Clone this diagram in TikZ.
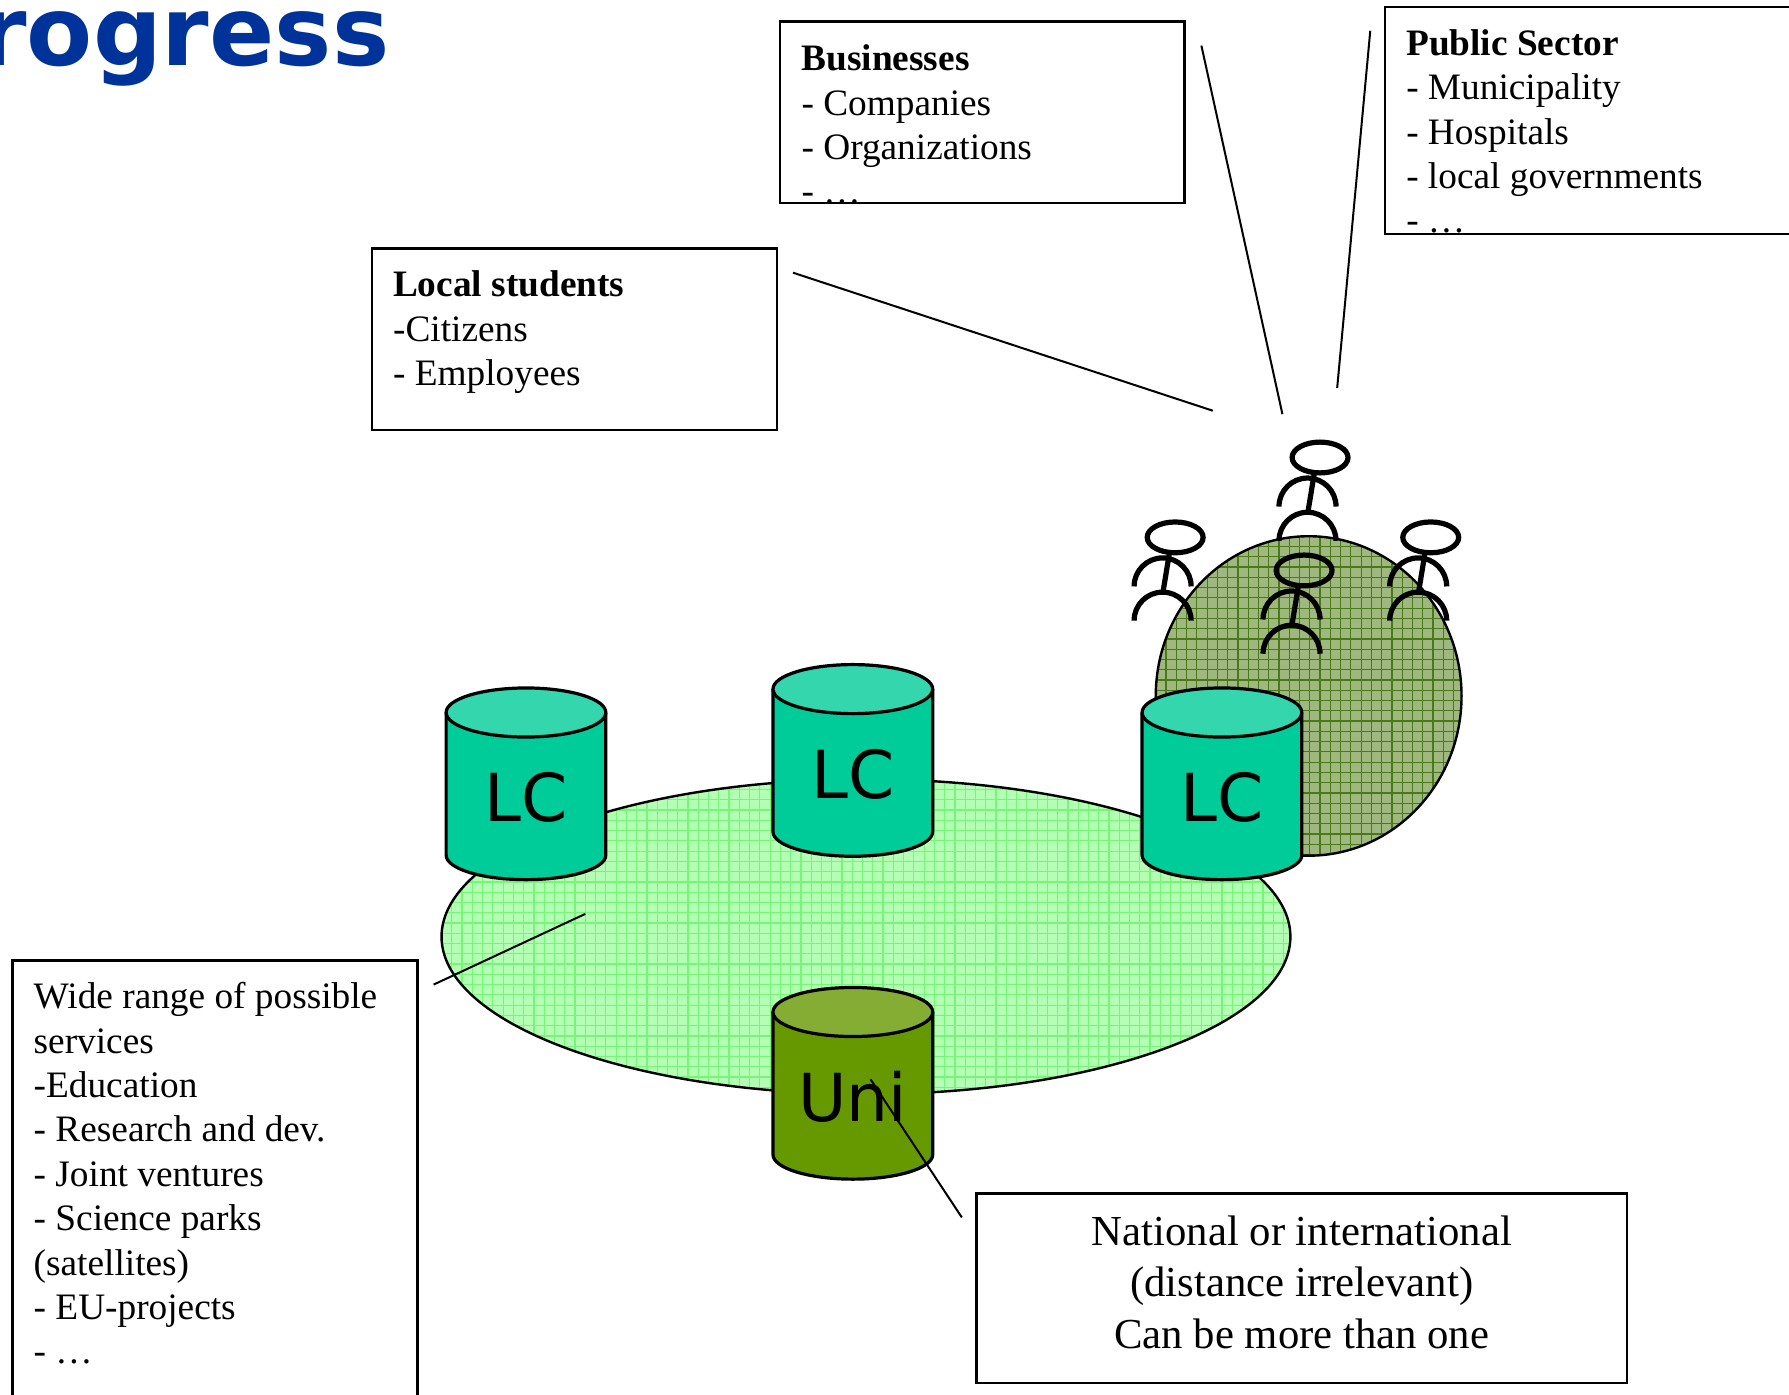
\documentclass[tikz,border=0pt]{standalone}
\usepackage{fontspec}
\setmainfont{Liberation Serif}
\newfontfamily\cylfont{DejaVu Sans}

\definecolor{titleblue}{RGB}{0,51,153}
\definecolor{lcbody}{RGB}{0,204,153}
\definecolor{lctop}{RGB}{51,214,173}
\definecolor{unibody}{RGB}{102,153,0}
\definecolor{unitop}{RGB}{133,173,51}
\definecolor{ringfill}{RGB}{179,255,179}
\definecolor{ringgrid}{RGB}{120,245,120}
\definecolor{crowdfill}{RGB}{158,184,128}
\definecolor{crowdgrid}{RGB}{75,120,25}

\tikzset{
  pics/tub/.style 2 args={code={
    \fill[#1] (-70,-62.5) -- (-70,62.5) arc[start angle=180,end angle=0,x radius=70,y radius=21.5] -- (70,-62.5) -- cycle;
    \draw[cylline] (-70,-62.5) -- (-70,62.5) arc[start angle=180,end angle=0,x radius=70,y radius=21.5] -- (70,-62.5);
    \filldraw[cylline,fill=#2] (0,-62.5) ellipse [x radius=70,y radius=21.5];
  }},
  pics/walker/.style={code={
    \draw[stick] (0,0) ellipse [x radius=24.5,y radius=13.5];
    \draw[stick] (-5,13.5) -- (-11,50);
    \draw[stick] (-36,43) arc[start angle=180,end angle=360,radius=25];
    \draw[stick] (-36,73) arc[start angle=180,end angle=360,radius=25];
  }}
}

\begin{document}
\begin{tikzpicture}[x=0.01cm,y=-0.01cm,
  box/.style={draw,line width=0.6pt,inner sep=0pt},
  boxtxt/.style={inner sep=0pt,anchor=north west,align=left,font=\fontsize{9.3}{11.06}\selectfont},
  cyllbl/.style={font=\cylfont\fontsize{16.5}{18}\selectfont},
  stick/.style={line width=1.3pt},
  cylline/.style={line width=0.8pt},
  link/.style={line width=0.5pt}]
\useasboundingbox (0,0) rectangle (1568,1222);

\node[anchor=base east,text=titleblue,font=\cylfont\bfseries\fontsize{24}{28}\selectfont,inner sep=0pt] (ttl) at (342,57) {rogress};

% crowd
\begin{scope}
\clip (1147,610) ellipse [x radius=134,y radius=140];
\fill[crowdfill] (1013,470) rectangle (1281,750);
\foreach \gx in {1013,1022,...,1281} \draw[crowdgrid,line width=0.3pt] (\gx,470) -- (\gx,750);
\foreach \gy in {470,479,...,750} \draw[crowdgrid,line width=0.3pt] (1013,\gy) -- (1281,\gy);
\end{scope}
\draw[line width=0.6pt] (1147,610) ellipse [x radius=134,y radius=140];

\pic (p1) at (1157,401) {walker};
\pic (p2) at (1030,471) {walker};
\pic (p3) at (1143,500) {walker};
\pic (p4) at (1254,471) {walker};

% ring
\begin{scope}
\clip (759,821) ellipse [x radius=372,y radius=138];
\fill[ringfill] (387,683) rectangle (1131,959);
\foreach \gx in {387,396,...,1131} \draw[ringgrid,line width=0.3pt] (\gx,683) -- (\gx,959);
\foreach \gy in {683,692,...,959} \draw[ringgrid,line width=0.3pt] (387,\gy) -- (1131,\gy);
\end{scope}
\draw[line width=0.6pt] (759,821) ellipse [x radius=372,y radius=138];

% centres
\pic at (461,687) {tub={lcbody}{lctop}};
\node[cyllbl] (lcA) at (461,699) {LC};
\pic at (747.5,666.5) {tub={lcbody}{lctop}};
\node[cyllbl] (lcB) at (747.5,678.5) {LC};
\pic at (1071,687) {tub={lcbody}{lctop}};
\node[cyllbl] (lcC) at (1071,699) {LC};
\pic at (747.5,949.5) {tub={unibody}{unitop}};
\node[cyllbl] (uni) at (747.5,961) {Uni};

% boxes
\node[box,minimum width=3.54cm,minimum height=1.59cm] (biz) at (861,98.5) {};
\begin{scope}
\clip (biz.north west) rectangle (biz.south east);
\node[boxtxt] (bizx) at ([shift={(19,20.8)}]biz.north west) {\textbf{Businesses}\\- Companies\\- Organizations\\- …};
\end{scope}

\node[box,minimum width=3.66cm,minimum height=1.99cm] (pub) at (1397,105.5) {};
\begin{scope}
\clip (pub.north west) rectangle (pub.south east);
\node[boxtxt] (pubx) at ([shift={(19,20.3)}]pub.north west) {\textbf{Public Sector}\\- Municipality\\- Hospitals\\- local governments\\- …};
\end{scope}

\node[box,minimum width=3.55cm,minimum height=1.59cm] (loc) at (503.5,297.5) {};
\begin{scope}
\clip (loc.north west) rectangle (loc.south east);
\node[boxtxt] (locx) at ([shift={(19,19.8)}]loc.north west) {\textbf{Local students}\\-Citizens\\- Employees};
\end{scope}

\node[box,minimum width=3.55cm,minimum height=4.2cm] (wide) at (188.5,1052) {};
\begin{scope}
\clip (wide.north west) rectangle (wide.south east);
\node[boxtxt] (widex) at ([shift={(19,19.6)}]wide.north west) {Wide range of possible\\services\\-Education\\- Research and dev.\\- Joint ventures\\- Science parks\\(satellites)\\- EU-projects\\- …};
\end{scope}

\node[box,minimum width=5.7cm,minimum height=1.66cm] (nat) at (1141,1129) {};
\node[boxtxt,anchor=north,align=center,font=\fontsize{10.65}{12.8}\selectfont] (natx) at ([shift={(0,20)}]nat.north) {National or international\\(distance irrelevant)\\Can be more than one};

% links
\coordinate (locA) at (695,239);
\coordinate (locB) at (1063,360);
\coordinate (bizA) at (1053,40);
\coordinate (bizB) at (1124,363);
\coordinate (pubA) at (1201,27);
\coordinate (pubB) at (1172,340);
\coordinate (wideA) at (380,863);
\coordinate (wideB) at (513,801);
\coordinate (natA) at (843,1067);
\coordinate (natB) at (763,946);
\draw[link] (locA) -- (locB);
\draw[link] (bizA) -- (bizB);
\draw[link] (pubA) -- (pubB);
\draw[link] (wideA) -- (wideB);
\draw[link] (natA) -- (natB);

\end{tikzpicture}
\end{document}
